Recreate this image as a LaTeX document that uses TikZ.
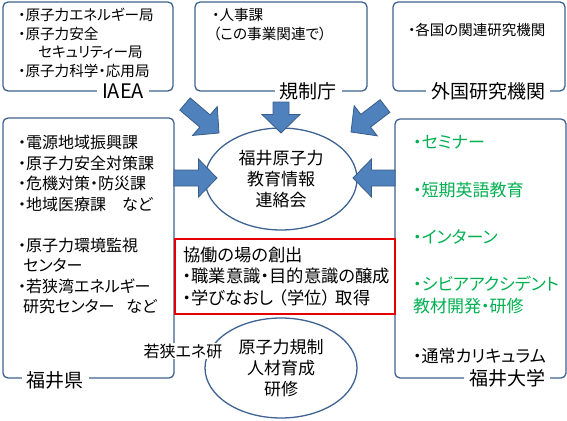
\documentclass[tikz,border=0pt]{standalone}
\usepackage{fontspec}
\setmainfont{Noto Sans CJK JP}[RawFeature={+palt}]
\usetikzlibrary{calc,shapes.geometric}

\definecolor{boxline}{RGB}{62,98,145}
\definecolor{arrowfill}{RGB}{79,129,189}
\definecolor{arrowedge}{RGB}{56,93,138}
\definecolor{coopred}{RGB}{228,0,0}
\definecolor{unigreen}{RGB}{0,176,80}

% block arrow from #1 to #2 (both named coordinates)
\newcommand{\blockarrow}[2]{%
  \coordinate (#2-base) at ($(#2)!18.5pt!(#1)$);
  \draw[blockar] ($(#1)!8pt!90:(#2)$) -- ($(#2-base)!8pt!90:(#2)$) -- ($(#2-base)!19pt!90:(#2)$) -- (#2)
    -- ($(#2-base)!19pt!-90:(#2)$) -- ($(#2-base)!8pt!-90:(#2)$) -- ($(#1)!8pt!-90:(#2)$) -- cycle;
}

\begin{document}
\begin{tikzpicture}[x=1pt,y=-1pt,
    group/.style={
        rectangle,
        rounded corners=5pt,
        draw=boxline,
        line width=1.3pt
    },
    grouplabel/.style={
        fill=white,
        inner xsep=5pt,
        inner ysep=1pt,
        font=\fontsize{19}{22}\selectfont
    },
    item/.style={
        anchor=north west,
        inner sep=0pt,
        align=left
    },
    bubble/.style={
        ellipse,
        draw=boxline,
        line width=1.3pt,
        minimum width=152pt,
        minimum height=102pt,
        inner sep=0pt,
        align=center,
        font=\fontsize{17}{21}\selectfont
    },
    blockar/.style={fill=arrowfill, draw=arrowedge, line width=0.8pt, line join=miter}
]
\useasboundingbox (0,0) rectangle (567,420);

% groups
\node[group, minimum width=170pt, minimum height=89pt] (iaea) at (88,46.5) {};
\node[group, minimum width=172pt, minimum height=89pt] (nra) at (281,46.5) {};
\node[group, minimum width=172pt, minimum height=89pt] (abroad) at (479,46.5) {};
\node[group, minimum width=171pt, minimum height=260pt] (pref) at (88.5,248) {};
\node[group, minimum width=171pt, minimum height=259pt] (univ) at (480.5,248.5) {};

\node[item, font=\fontsize{14.6}{18.5}\selectfont] (iaea-items) at (18,8.3)
    {・原子力エネルギー局\\・原子力安全\\\hspace{20pt}セキュリティー局\\・原子力科学・応用局};
\node[item, font=\fontsize{14.6}{18.5}\selectfont] (nra-items) at (212,8.3)
    {・人事課\\\hspace{1pt}（この事業関連で）};
\node[item, font=\fontsize{14.5}{18.5}\selectfont] (abroad-items) at (408,23.5)
    {・各国の関連研究機関};
\node[item, font=\fontsize{16}{20.5}\selectfont] (pref-items) at (18,135)
    {・電源地域振興課\\・原子力安全対策課\\・危機対策・防災課\\・地域医療課　など\\[20.5pt]
     ・原子力環境監視\\\hspace{5pt}センター\\・若狭湾エネルギー\\\hspace{5pt}研究センター\hspace{12pt}など};
\node[item, font=\fontsize{17}{22}\selectfont, text=unigreen] (univ-items) at (413,135)
    {・セミナー\\[26pt]・短期英語教育\\[25pt]・インターン\\[25pt]・シビアアクシデント\\教材開発・研修\\[28pt]
     \textcolor{black}{・通常カリキュラム}};

\node[grouplabel] (iaea-lbl) at (123,91) {\fontsize{20}{22}\selectfont IAEA};
\node[grouplabel] (nra-lbl) at (308,91) {規制庁};
\node[grouplabel] (abroad-lbl) at (488,91) {外国研究機関};
\node[grouplabel] (pref-lbl) at (55,380) {福井県};
\node[grouplabel] (univ-lbl) at (507,378) {福井大学};

% centre
\node[bubble] (hub) at (281,179) {福井原子力\\教育情報\\連絡会};
\node[draw=coopred, line width=1.6pt, minimum width=220pt, minimum height=73pt,
      text width=204pt, inner sep=8pt, align=left, font=\fontsize{17.3}{21.5}\selectfont] (coop) at (285,276.5)
    {協働の場の創出\\・職業意識・目的意識の醸成\\・学びなおし\hspace{5pt}（学位）\hspace{5pt}取得};
\node[bubble, minimum height=100pt] (train) at (281,368) {原子力規制\\人材育成\\研修};
\node[fill=white, inner sep=1pt, font=\fontsize{16}{19}\selectfont] (wakasa) at (183,351) {若狭エネ研};

% arrows into the hub
\coordinate (a1from) at (185,104);
\coordinate (a1to) at (219,133);
\coordinate (a2from) at (281,102);
\coordinate (a2to) at (281,133);
\coordinate (a3from) at (385,106);
\coordinate (a3to) at (351,132);
\coordinate (a4from) at (174,178);
\coordinate (a4to) at (217,178);
\coordinate (a5from) at (395,178);
\coordinate (a5to) at (353,178);

\blockarrow{a1from}{a1to}
\blockarrow{a2from}{a2to}
\blockarrow{a3from}{a3to}
\blockarrow{a4from}{a4to}
\blockarrow{a5from}{a5to}

\end{tikzpicture}
\end{document}
